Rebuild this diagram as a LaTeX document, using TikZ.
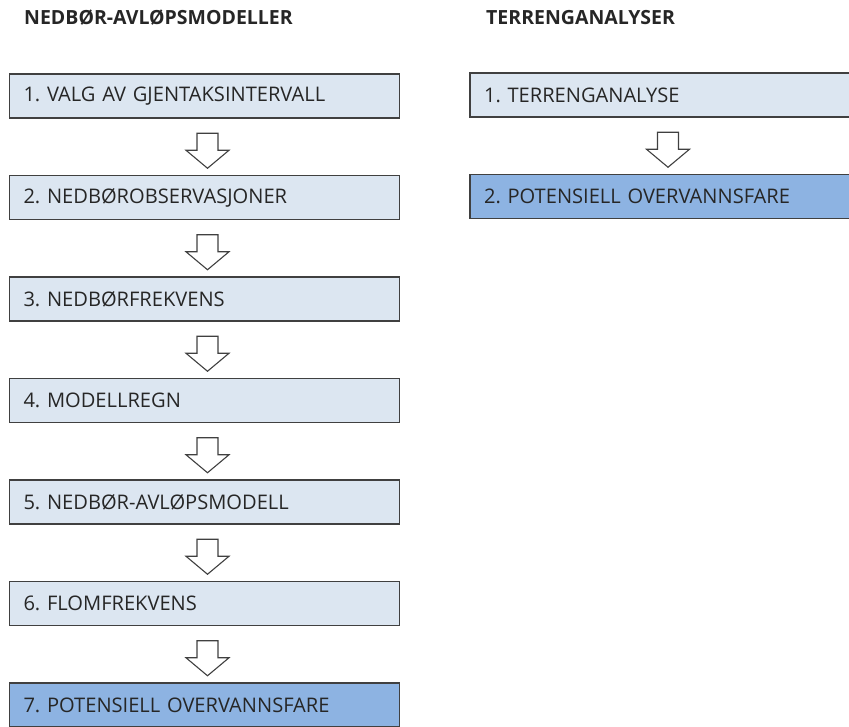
\documentclass[tikz,border=0pt]{standalone}
\usepackage{fontspec}
\setmainfont{Open Sans}
\usepackage{tikz}
\usetikzlibrary{positioning, calc}

\definecolor{steplight}{HTML}{DCE6F1}
\definecolor{stepdark}{HTML}{8DB3E2}
\definecolor{edgegray}{HTML}{404040}
\definecolor{textgray}{HTML}{262626}

\begin{document}
\frenchspacing
\begin{tikzpicture}[
    x=1pt, y=-1pt,
    font=\fontsize{20.1}{23}\selectfont,
    stepbox/.style={rectangle, draw=edgegray, line width=1.4pt, fill=steplight, text=textgray,
        minimum width=390pt, minimum height=44pt, text width=362pt, align=left, inner sep=0pt},
    result/.style={stepbox, fill=stepdark},
    flow/.style={draw=edgegray, line width=1.1pt, fill=white, line join=miter},
    heading/.style={font=\bfseries\fontsize{19.5}{22}\selectfont, text=textgray, anchor=base west, inner sep=0pt}
]
    \useasboundingbox (0,0) rectangle (849,726);

    % overskrifter
    \node[heading] (hleft) at (24,24.5) {NEDBØR-AVLØPSMODELLER};
    \node[heading] (hright) at (486,24.5) {TERRENGANALYSER};

    % nedbør-avløpsmodeller
    \node[stepbox] (n1) at (204.5,96) {1. VALG AV GJENTAKSINTERVALL};
    \node[stepbox] (n2) at (204.5,197.5) {2. NEDBØROBSERVASJONER};
    \node[stepbox] (n3) at (204.5,299) {3. NEDBØRFREKVENS};
    \node[stepbox] (n4) at (204.5,400.5) {4. MODELLREGN};
    \node[stepbox] (n5) at (204.5,502) {5. NEDBØR-AVLØPSMODELL};
    \node[stepbox] (n6) at (204.5,603.5) {6. FLOMFREKVENS};
    \node[result] (n7) at (204.5,705) {7. POTENSIELL OVERVANNSFARE};

    % terrenganalyser
    \node[stepbox] (t1) at (665,95) {1. TERRENGANALYSE};
    \node[result] (t2) at (665,196.5) {2. POTENSIELL OVERVANNSFARE};

    % hule blokkpiler mellom trinnene
    \foreach \a/\b in {n1/n2, n2/n3, n3/n4, n4/n5, n5/n6, n6/n7, t1/t2} {
        \coordinate (\a\b) at ($(\a.south)!0.5!(\b.north)+(3,4)$);
        \draw[flow] ([shift={(-10.5,-17.5)}]\a\b) -- ++(21,0) -- ++(0,17) -- ++(11,0)
            -- ++(-21.5,18) -- ++(-21.5,-18) -- ++(11,0) -- cycle;
    }
\end{tikzpicture}
\end{document}
